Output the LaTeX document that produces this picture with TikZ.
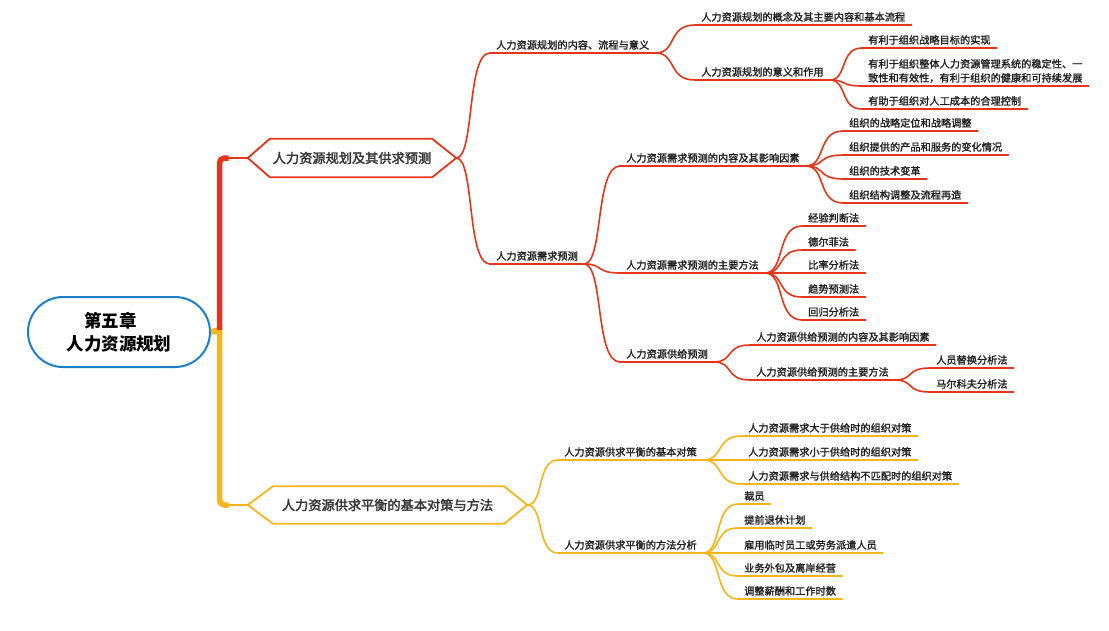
\documentclass[tikz,border=0pt]{standalone}
\usepackage{fontspec}
\setmainfont{Noto Sans CJK SC}
\newfontfamily\medfont{Noto Sans CJK SC}[FakeBold=1.4]
\newfontfamily\hexfont{Noto Sans CJK SC}[FakeBold=2.2]
\usetikzlibrary{calc}
\definecolor{bred}{HTML}{E5361B}
\definecolor{byel}{HTML}{F7B51C}
\definecolor{bblue}{HTML}{1C7FC9}
\definecolor{txt}{HTML}{1E1E1E}
\newcommand\mmleaf[6][lab]{%
  \node[#1] (#3) at (#4) {#6};
  \draw[ul,#2] (#3.south west) -- (#3.south east);
  \draw[ul,#2] (#5) to[curve] (#3.south west);}
\begin{document}
\begin{tikzpicture}[x=1pt,y=-1pt,
  lab/.style={anchor=south west, inner xsep=6pt, inner ysep=2pt, text height=7.6pt, text depth=2pt,
    font=\medfont\fontsize{10.2}{14}\selectfont, text=txt},
  labm/.style={anchor=south west, inner xsep=6pt, inner ysep=3pt, align=left,
    font=\medfont\fontsize{10.2}{14}\selectfont, text=txt},
  ul/.style={line width=1.6pt, line cap=round},
  curve/.style={to path={let \p1=(\tikztostart), \p2=(\tikztotarget) in
    .. controls ({0.45*\x1+0.55*\x2},\y1) and ({0.7*\x1+0.3*\x2},\y2) .. (\tikztotarget)}},
  hexbox/.style={inner sep=0pt, minimum height=38pt, text=txt!90,
    font=\hexfont\fontsize{13.2}{15}\selectfont},
]
\useasboundingbox (0,0) rectangle (1109,630);

% root
\node[draw=bblue, line width=2pt, rounded corners=35pt, minimum width=182pt, minimum height=70pt,
  align=center, font=\fontsize{17.5}{23}\selectfont\bfseries, text=black, inner sep=0pt]
  (root) at (119,332) {第五章\hphantom{章}\\人力资源规划};

% main topics
\node[hexbox, minimum width=208pt] (h1) at (352,158) {};
\draw[bred, line width=1.8pt, fill=white] (h1.west) -- ([xshift=22pt]h1.north west) -- ([xshift=-24pt]h1.north east)
  -- (h1.east) -- ([xshift=-24pt]h1.south east) -- ([xshift=22pt]h1.south west) -- cycle;
\node[hexbox] (h1t) at (h1) {人力资源规划及其供求预测};

\node[hexbox, minimum width=279pt, minimum height=37pt] (h2) at (387.5,505) {};
\draw[byel, line width=1.8pt, fill=white] (h2.west) -- ([xshift=25pt]h2.north west) -- ([xshift=-23pt]h2.north east)
  -- (h2.east) -- ([xshift=-23pt]h2.south east) -- ([xshift=25pt]h2.south west) -- cycle;
\node[hexbox] (h2t) at (h2) {人力资源供求平衡的基本对策与方法};

% trunk
\coordinate (j) at (219.5,330);
\coordinate (tt) at (219.5,158);
\coordinate (tb) at (219.5,505);
\draw[byel, line width=6pt] (root.east) -- (j);
\draw[bred, line width=5.5pt, rounded corners=5pt] (j) -- (tt) -- ++(9,0);
\draw[bred, line width=2pt] ($(tt)+(6,0)$) -- (h1.west);
\draw[byel, line width=5.5pt, rounded corners=5pt] (j) -- (tb) -- ++(9,0);
\draw[byel, line width=2.6pt] ($(tb)+(6,0)$) -- (h2.west);

% branch 1
\mmleaf{bred}{a1}{490,53}{h1.east}{人力资源规划的内容、流程与意义}
\mmleaf{bred}{a11}{695,25}{a1.south east}{人力资源规划的概念及其主要内容和基本流程}
\mmleaf{bred}{a12}{695,80}{a1.south east}{人力资源规划的意义和作用}
\mmleaf{bred}{a121}{862,48}{a12.south east}{有利于组织战略目标的实现}
\mmleaf[labm]{bred}{a122}{862,86}{a12.south east}{有利于组织整体人力资源管理系统的稳定性、一\\致性和有效性，有利于组织的健康和可持续发展}
\mmleaf{bred}{a123}{862,109}{a12.south east}{有助于组织对人工成本的合理控制}

\mmleaf{bred}{a2}{490,264}{h1.east}{人力资源需求预测}
\mmleaf{bred}{a21}{620,166}{a2.south east}{人力资源需求预测的内容及其影响因素}
\mmleaf{bred}{a211}{843,131}{a21.south east}{组织的战略定位和战略调整}
\mmleaf{bred}{a212}{843,155}{a21.south east}{组织提供的产品和服务的变化情况}
\mmleaf{bred}{a213}{843,179}{a21.south east}{组织的技术变革}
\mmleaf{bred}{a214}{843,203}{a21.south east}{组织结构调整及流程再造}

\mmleaf{bred}{a22}{620,273}{a2.south east}{人力资源需求预测的主要方法}
\mmleaf{bred}{a221}{802,226}{a22.south east}{经验判断法}
\mmleaf{bred}{a222}{802,250}{a22.south east}{德尔菲法}
\mmleaf{bred}{a223}{802,273}{a22.south east}{比率分析法}
\mmleaf{bred}{a224}{802,297}{a22.south east}{趋势预测法}
\mmleaf{bred}{a225}{802,320}{a22.south east}{回归分析法}

\mmleaf{bred}{a23}{620,362}{a2.south east}{人力资源供给预测}
\mmleaf{bred}{a231}{750,345}{a23.south east}{人力资源供给预测的内容及其影响因素}
\mmleaf{bred}{a232}{750,380}{a23.south east}{人力资源供给预测的主要方法}
\mmleaf{bred}{a2321}{930,368}{a232.south east}{人员替换分析法}
\mmleaf{bred}{a2322}{930,392}{a232.south east}{马尔科夫分析法}

% branch 2
\mmleaf{byel}{b1}{558,460}{h2.east}{人力资源供求平衡的基本对策}
\mmleaf{byel}{b11}{742,436}{b1.south east}{人力资源需求大于供给时的组织对策}
\mmleaf{byel}{b12}{742,460}{b1.south east}{人力资源需求小于供给时的组织对策}
\mmleaf{byel}{b13}{742,484}{b1.south east}{人力资源需求与供给结构不匹配时的组织对策}

\mmleaf{byel}{b2}{558,553}{h2.east}{人力资源供求平衡的方法分析}
\mmleaf{byel}{b21}{738,504}{b2.south east}{裁员}
\mmleaf{byel}{b22}{738,528}{b2.south east}{提前退休计划}
\mmleaf{byel}{b23}{738,553}{b2.south east}{雇用临时员工或劳务派遣人员}
\mmleaf{byel}{b24}{738,576}{b2.south east}{业务外包及离岸经营}
\mmleaf{byel}{b25}{738,599}{b2.south east}{调整薪酬和工作时数}
\end{tikzpicture}
\end{document}
